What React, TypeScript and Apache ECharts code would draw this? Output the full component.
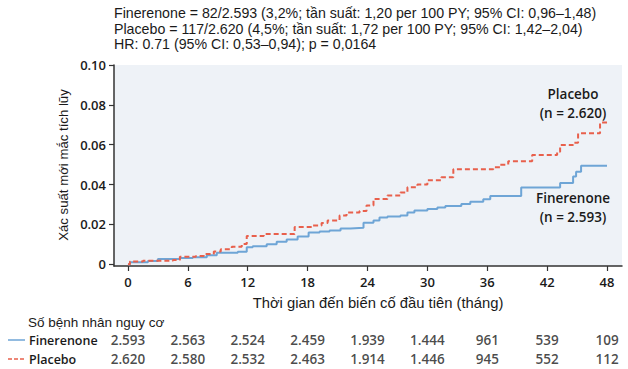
import React, { useEffect, useRef } from "react";
import * as echarts from "echarts";

const headerLines = [
  "Finerenone = 82/2.593 (3,2%; tần suất: 1,20 per 100 PY; 95% CI: 0,96–1,48)",
  "Placebo = 117/2.620 (4,5%; tần suất: 1,72 per 100 PY; 95% CI: 1,42–2,04)",
  "HR: 0.71 (95% CI: 0,53–0,94); p = 0,0164",
];

const xTicks = [0, 6, 12, 18, 24, 30, 36, 42, 48];
const yTicks = [0, 0.02, 0.04, 0.06, 0.08, 0.1];

const finerenone: [number, number][] = [
  [0, 0], [0.2, 0.001], [2.0, 0.0017], [3.0, 0.0026], [5.2, 0.0032], [6.5, 0.0036],
  [7.9, 0.0046], [8.9, 0.0058], [11.0, 0.0063], [11.9, 0.0086], [12.5, 0.009],
  [13.9, 0.0101], [14.9, 0.0113], [15.9, 0.0125], [17.0, 0.014], [18.1, 0.016],
  [19.2, 0.0165], [20.2, 0.017], [21.3, 0.018], [22.3, 0.0183], [23.6, 0.0208],
  [24.6, 0.022], [25.2, 0.0235], [26.0, 0.024], [27.3, 0.0245], [28.0, 0.026],
  [28.7, 0.027], [30.0, 0.0277], [31.0, 0.0285], [31.8, 0.0292], [33.4, 0.0302],
  [34.3, 0.0314], [35.6, 0.0326], [36.3, 0.0343], [39.4, 0.0385], [43.3, 0.0408],
  [44.6, 0.044], [44.9, 0.0465], [45.4, 0.0495], [48, 0.0495],
];

const placebo: [number, number][] = [
  [0, 0], [0.2, 0.0014], [1.5, 0.0018], [4.5, 0.0022], [5.2, 0.0038], [6.8, 0.0042],
  [7.6, 0.0052], [8.6, 0.0064], [9.3, 0.0076], [10.4, 0.0088], [11.4, 0.0102],
  [11.9, 0.0142], [13.6, 0.0152], [16.7, 0.0187], [18.5, 0.0195], [19.4, 0.0207],
  [20.0, 0.022], [21.2, 0.0245], [21.9, 0.026], [23.2, 0.0267], [23.9, 0.0295],
  [24.6, 0.0328], [26.0, 0.0345], [27.3, 0.036], [28.0, 0.0387], [29.0, 0.04],
  [30.0, 0.0422], [31.4, 0.0437], [32.6, 0.0477], [36.6, 0.0487], [37.3, 0.05],
  [38.1, 0.0517], [40.5, 0.0548], [43.0, 0.0565], [43.3, 0.0598], [44.6, 0.061],
  [45.1, 0.0657], [47.3, 0.0712], [48, 0.0712],
];

const riskRows = ["Placebo", "Finerenone"];
const riskFinerenone = ["2.593", "2.563", "2.524", "2.459", "1.939", "1.444", "961", "539", "109"];
const riskPlacebo = ["2.620", "2.580", "2.532", "2.463", "1.914", "1.446", "945", "552", "112"];

const BLUE = "#6ea5d6";
const RED = "#e8604c";
const HUM = "'Open Sans', 'Noto Sans', sans-serif";
const ARIAL = "'Liberation Sans', Arial, sans-serif";

export default function App() {
  const ref = useRef<HTMLDivElement>(null);
  useEffect(() => {
    if (!ref.current) return;
    const chart = echarts.init(ref.current, undefined, { renderer: "svg" });
    const labelStyle = { fontFamily: HUM, fontWeight: 600, fontSize: 13, color: "#1a1a1a" };
    const option: any = {
      animation: false,
      backgroundColor: "#ffffff",
      grid: [
        { left: 114, right: 6, top: 65, bottom: 103, show: true, backgroundColor: "#eef2f7", borderWidth: 0 },
        { left: 114, right: 6, top: 330.5, height: 38 },
      ],
      xAxis: [
        {
          type: "value", gridIndex: 0, min: -1.4, max: 49.5,
          axisLine: { show: true, onZero: false, lineStyle: { color: "#333", width: 1.5 } },
          axisTick: { show: true, customValues: xTicks, length: 5, lineStyle: { color: "#333", width: 1.2 } },
          axisLabel: { customValues: xTicks, margin: 9, ...labelStyle },
          splitLine: { show: false },
        },
        {
          type: "value", gridIndex: 1, min: -1.4, max: 49.5,
          axisLine: { show: false }, axisTick: { show: false }, axisLabel: { show: false }, splitLine: { show: false },
        },
      ],
      yAxis: [
        {
          type: "value", gridIndex: 0, min: -0.00085, max: 0.1,
          axisLine: { show: true, onZero: false, lineStyle: { color: "#333", width: 1.5 } },
          axisTick: { show: true, customValues: yTicks, length: 5, lineStyle: { color: "#333", width: 1.2 } },
          axisLabel: {
            customValues: yTicks, margin: 8, ...labelStyle,
            formatter: (v: number) => (v === 0 ? "0" : v.toFixed(2)),
          },
          splitLine: { show: false },
        },
        {
          type: "category", gridIndex: 1, data: riskRows,
          axisLine: { show: false }, axisTick: { show: false }, splitLine: { show: false },
          axisLabel: { align: "left", margin: 85, ...labelStyle, fontSize: 12.5 },
        },
      ],
      series: [
        {
          type: "line", xAxisIndex: 0, yAxisIndex: 0, step: "end", data: finerenone, showSymbol: false,
          lineStyle: { color: BLUE, width: 2 }, z: 3,
        },
        {
          type: "line", xAxisIndex: 0, yAxisIndex: 0, step: "end", data: placebo, showSymbol: false,
          lineStyle: { color: RED, width: 2, type: [5, 3] }, z: 4,
        },
        {
          type: "scatter", xAxisIndex: 1, yAxisIndex: 1, symbolSize: 0,
          data: xTicks.map((t, i) => ({ value: [t, "Finerenone"], label: { formatter: riskFinerenone[i] } })),
          label: { show: true, position: "inside", ...labelStyle, fontSize: 13.5 },
        },
        {
          type: "scatter", xAxisIndex: 1, yAxisIndex: 1, symbolSize: 0,
          data: xTicks.map((t, i) => ({ value: [t, "Placebo"], label: { formatter: riskPlacebo[i] } })),
          label: { show: true, position: "inside", ...labelStyle, fontSize: 13.5 },
        },
      ],
      graphic: [
        ...headerLines.map((s, i) => ({
          type: "text", x: 114, y: 13 + i * 15.5,
          style: { text: s, font: `14.2px ${ARIAL}`, fill: "#1a1a1a", verticalAlign: "middle" },
        })),
        {
          type: "text", x: 63, y: 165, rotation: Math.PI / 2,
          style: { text: "Xác suất mới mắc tích lũy", font: `13.2px ${ARIAL}`, fill: "#1a1a1a", align: "center", verticalAlign: "middle" },
        },
        {
          type: "text", x: 378, y: 303,
          style: { text: "Thời gian đến biến cố đầu tiên (tháng)", font: `14.8px ${ARIAL}`, fill: "#1a1a1a", align: "center", verticalAlign: "middle" },
        },
        {
          type: "text", x: 28, y: 322,
          style: { text: "Số bệnh nhân nguy cơ", font: `13.5px ${ARIAL}`, fill: "#1a1a1a", align: "left", verticalAlign: "middle" },
        },
        {
          type: "text", x: 573, y: 103,
          style: { text: "Placebo\n(n = 2.620)", font: `600 13.5px ${HUM}`, fill: "#1a1a1a", align: "center", verticalAlign: "middle", lineHeight: 19 },
        },
        {
          type: "text", x: 573, y: 207,
          style: { text: "Finerenone\n(n = 2.593)", font: `600 13.5px ${HUM}`, fill: "#1a1a1a", align: "center", verticalAlign: "middle", lineHeight: 19 },
        },
        { type: "line", shape: { x1: 8, y1: 340, x2: 25, y2: 340 }, style: { stroke: BLUE, lineWidth: 1.5 } },
        { type: "line", shape: { x1: 8, y1: 359, x2: 25, y2: 359 }, style: { stroke: RED, lineWidth: 1.5, lineDash: [4, 2] } },
      ],
    };
    chart.setOption(option);
    return () => chart.dispose();
  }, []);
  return <div ref={ref} style={{ position: "fixed", left: 0, top: 0, width: 628, height: 369 }} />;
}
